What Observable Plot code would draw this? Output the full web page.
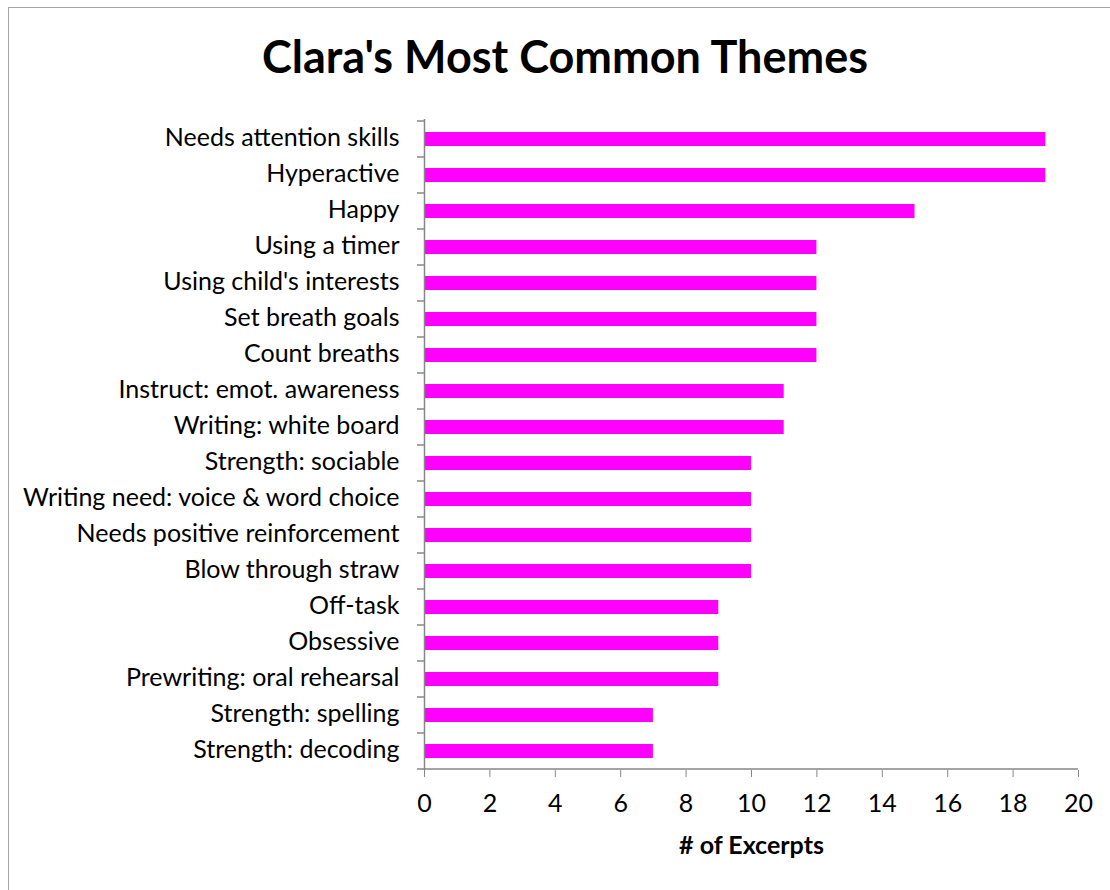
<!DOCTYPE html>
<html>
<head>
<meta charset="utf-8">
<script src="https://cdn.jsdelivr.net/npm/d3@7"></script>
<script src="https://cdn.jsdelivr.net/npm/@observablehq/plot@0.6"></script>
<style>
  html, body { margin: 0; padding: 0; background: #fff; width: 1110px; height: 890px; overflow: hidden; }
  #frame { position: absolute; left: 8px; top: 7px; width: 1200px; height: 1000px;
           border-left: 1px solid #a6a6a6; border-top: 1px solid #a6a6a6; }
  #title { position: absolute; left: 0; top: 28px; width: 1130px; text-align: center;
           font-family: Lato, sans-serif; font-weight: bold; font-size: 45px; line-height: 56px; color: #000; }
  #chart { position: absolute; left: 0; top: 100px; }
</style>
</head>
<body>
<div id="frame"></div>
<div id="title">Clara's Most Common Themes</div>
<div id="chart"></div>
<script>
const themes = [
  "Needs attention skills",
  "Hyperactive",
  "Happy",
  "Using a timer",
  "Using child's interests",
  "Set breath goals",
  "Count breaths",
  "Instruct: emot. awareness",
  "Writing: white board",
  "Strength: sociable",
  "Writing need: voice & word choice",
  "Needs positive reinforcement",
  "Blow through straw",
  "Off-task",
  "Obsessive",
  "Prewriting: oral rehearsal",
  "Strength: spelling",
  "Strength: decoding"
];
const excerpts = [19, 19, 15, 12, 12, 12, 12, 11, 11, 10, 10, 10, 10, 9, 9, 9, 7, 7];
const xTicks = [0, 2, 4, 6, 8, 10, 12, 14, 16, 18, 20];
const xLabel = "# of Excerpts";

const data = themes.map((t, i) => ({theme: t, value: excerpts[i]}));
const axisColor = "#868686";

const plot = Plot.plot({
  width: 1110,
  height: 790,
  marginTop: 19,
  marginBottom: 120,
  marginLeft: 424,
  marginRight: 32,
  style: {fontFamily: "Lato, sans-serif", fontSize: "25px", color: "#000", background: "transparent"},
  x: {domain: [0, 20], ticks: xTicks, label: null},
  y: {domain: themes, paddingInner: 0.613, paddingOuter: 0.3065, label: null},
  marks: [
    Plot.barX(data, {x: "value", y: "theme", fill: "#ff00ff"}),
    Plot.axisY({tickSize: 0, tickPadding: 25, dy: -2, label: null}),
    Plot.axisX({ticks: xTicks, tickSize: 7, tickPadding: 17, stroke: axisColor, label: null}),
    Plot.ruleX([0], {stroke: axisColor, strokeWidth: 1.5}),
    Plot.text([xLabel], {text: d => d, frameAnchor: "bottom", dy: 83, fontWeight: "bold", fontSize: 25, fill: "#000"})
  ]
});
document.getElementById("chart").appendChild(plot);

// Excel-style axis line and boundary ticks, placed with Plot's own scales
const svg = d3.select(plot);
const xs = plot.scale("x"), ys = plot.scale("y");
const x0 = xs.apply(0), x1 = xs.apply(20);
const step = ys.step, bw = ys.bandwidth;
const yBot = ys.apply(themes[themes.length - 1]) + bw + (step - bw) / 2;
const g = svg.append("g").attr("stroke", axisColor).attr("stroke-width", 1.5);
g.append("line").attr("x1", x0).attr("x2", x1).attr("y1", yBot).attr("y2", yBot);
const bounds = themes.map(t => ys.apply(t) - (step - bw) / 2).concat([yBot]);
bounds.forEach(b => g.append("line").attr("x1", x0 - 7).attr("x2", x0).attr("y1", b).attr("y2", b));
</script>
</body>
</html>
